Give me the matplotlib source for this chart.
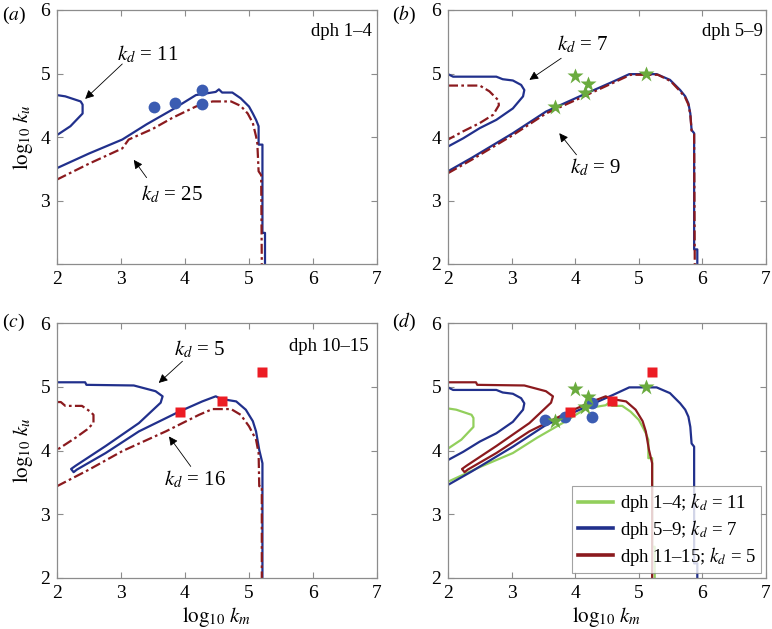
import matplotlib
matplotlib.use("Agg")
import matplotlib.pyplot as plt

# ---- contour lines (log10 km, log10 ku) ----
# dph 1-4
a_kd11_loop_x = [2.0, 2.13, 2.25, 2.37, 2.40, 2.40, 2.21, 2.0]
a_kd11_loop_y = [4.66, 4.64, 4.60, 4.56, 4.51, 4.37, 4.17, 4.03]
a_kd11_x = [2.0, 2.5, 3.02, 3.4, 3.8, 4.17, 4.48, 4.53, 4.58, 4.74, 4.87, 5.0, 5.06, 5.11, 5.15, 5.15, 5.21, 5.21, 5.25, 5.25]
a_kd11_y = [3.51, 3.74, 3.96, 4.2, 4.43, 4.66, 4.71, 4.75, 4.70, 4.70, 4.61, 4.48, 4.37, 4.27, 4.17, 3.88, 3.88, 2.49, 2.49, 2.0]
a_kd25_x = [2.0, 2.5, 3.02, 3.12, 3.5, 3.8, 4.17, 4.43, 4.72, 4.87, 4.98, 5.06, 5.11, 5.13, 5.15, 5.19, 5.20]
a_kd25_y = [3.33, 3.58, 3.82, 3.96, 4.13, 4.3, 4.48, 4.56, 4.56, 4.49, 4.37, 4.22, 4.01, 3.9, 3.46, 3.4, 2.0]

# dph 5-9
b_kd7_loop_x = [2.0, 2.08, 2.76, 2.86, 3.02, 3.15, 3.2, 3.18, 3.02, 2.76, 2.5, 2.24, 2.0]
b_kd7_loop_y = [4.99, 4.95, 4.95, 4.91, 4.89, 4.82, 4.74, 4.64, 4.45, 4.27, 4.14, 3.98, 3.85]
b_kd9_loop_x = [2.0, 2.5, 2.65, 2.79, 2.8, 2.71, 2.5, 2.24, 2.0]
b_kd9_loop_y = [4.81, 4.81, 4.72, 4.58, 4.5, 4.35, 4.22, 4.09, 3.96]
b_kd7_x = [2.0, 2.37, 3.02, 3.54, 4.07, 4.59, 4.85, 5.28, 5.49, 5.65, 5.73, 5.78, 5.81, 5.83, 5.87, 5.87, 5.92, 5.92]
b_kd7_y = [3.46, 3.67, 4.06, 4.4, 4.64, 4.87, 4.99, 4.99, 4.9, 4.74, 4.64, 4.53, 4.37, 4.11, 4.06, 2.23, 2.23, 2.0]
b_kd9_x = [2.0, 2.37, 3.02, 3.54, 4.07, 4.59, 4.87, 5.3, 5.5, 5.65, 5.73, 5.78, 5.81, 5.83, 5.87, 5.88]
b_kd9_y = [3.43, 3.64, 4.03, 4.37, 4.61, 4.85, 4.98, 4.98, 4.88, 4.72, 4.62, 4.51, 4.35, 4.1, 4.05, 2.0]

# dph 10-15
c_kd5_x = [2.0, 2.44, 2.46, 3.2, 3.54, 3.65, 3.62, 3.28, 2.76, 2.29, 2.22, 2.26, 2.31, 2.76, 3.28, 3.91,
           4.27, 4.48, 4.56, 4.8, 4.95, 5.06, 5.11, 5.16, 5.21, 5.21]
c_kd5_y = [5.07, 5.07, 5.03, 5.02, 4.93, 4.85, 4.75, 4.43, 4.07, 3.76, 3.71, 3.66, 3.70, 3.96, 4.3, 4.61,
           4.77, 4.85, 4.81, 4.77, 4.64, 4.46, 4.3, 4.01, 3.8, 2.0]
c_kd16_loop_x = [2.0, 2.06, 2.13, 2.39, 2.52, 2.57, 2.57, 2.47, 2.29, 2.0]
c_kd16_loop_y = [4.76, 4.76, 4.70, 4.70, 4.61, 4.56, 4.43, 4.33, 4.2, 4.01]
c_kd16_x = [2.0, 2.5, 3.02, 3.7, 4.22, 4.43, 4.72, 4.87, 5.0, 5.11, 5.15, 5.16, 5.2, 5.2]
c_kd16_y = [3.44, 3.7, 3.99, 4.3, 4.56, 4.65, 4.65, 4.56, 4.38, 4.17, 3.96, 3.44, 3.44, 2.0]

# measured points
circ_x = [3.52, 3.84, 4.27, 4.27]
circ_y = [4.48, 4.53, 4.74, 4.52]
star_x = [3.68, 3.99, 4.2, 4.15, 5.11]
star_y = [4.47, 4.96, 4.84, 4.69, 5.0]
sq_x = [3.92, 4.58, 5.21]
sq_y = [4.61, 4.77, 5.23]

legend_labels = ["dph 1–4; $k_d$ = 11", "dph 5–9; $k_d$ = 7", "dph 11–15; $k_d$ = 5"]

BLUE = "#21308c"
RED = "#8b1a1e"
GREEN = "#92cf5c"
DOTBLUE = "#3b5cb2"
STARGREEN = "#6aab3e"
SQRED = "#ec1c24"
GRID = "#8c8c8c"
DASHDOT = (0, (4.5, 1.5, 1.2, 1.5))

plt.rcParams["font.family"] = "serif"
plt.rcParams["font.serif"] = ["Liberation Serif", "DejaVu Serif"]
plt.rcParams["mathtext.fontset"] = "stix"

fig = plt.figure(figsize=(7.72, 6.29), dpi=100)
W, H = 772., 629.

def make_axes(l, t, r, b):
    return fig.add_axes([l / W, 1 - b / H, (r - l) / W, (b - t) / H])

ax_a = make_axes(57, 10, 377, 264)
ax_b = make_axes(448, 10, 766, 264)
ax_c = make_axes(57, 323, 377, 578)
ax_d = make_axes(448, 323, 766, 578)

for ax in [ax_a, ax_b, ax_c, ax_d]:
    ax.set_xlim(2, 7)
    ax.set_ylim(2, 6)
    ax.set_xticks([2, 3, 4, 5, 6, 7])
    ax.set_yticks([2, 3, 4, 5, 6])
    ax.tick_params(direction="in", top=True, right=True, length=4, width=0.8,
                   color=GRID, labelsize=14, pad=5)
    for s in ax.spines.values():
        s.set_color(GRID)
        s.set_linewidth(0.9)

ax_a.set_yticklabels(["", "3", "4", "5", "6"])

lw = 1.6
arrow = dict(arrowstyle="-|>", color="k", lw=0.6, mutation_scale=13, shrinkA=0, shrinkB=0)

# (a)
ax_a.plot(a_kd11_loop_x, a_kd11_loop_y, color=BLUE, lw=lw)
ax_a.plot(a_kd11_x, a_kd11_y, color=BLUE, lw=lw)
ax_a.plot(a_kd25_x, a_kd25_y, color=RED, lw=lw, linestyle=DASHDOT)
ax_a.plot(circ_x, circ_y, "o", color=DOTBLUE, ms=8.5, mec="none")
ax_a.text(3.42, 5.3, "$k_d$ = 11", fontsize=15, ha="center", va="center")
ax_a.annotate("", xy=(2.44, 4.6), xytext=(3.02, 5.15), arrowprops=arrow)
ax_a.text(3.8, 3.1, "$k_d$ = 25", fontsize=15, ha="center", va="center")
ax_a.annotate("", xy=(3.2, 3.64), xytext=(3.4, 3.36), arrowprops=arrow)
ax_a.text(6.92, 5.66, "dph 1–4", fontsize=13.5, ha="right", va="center")
ax_a.set_ylabel(r"$\log_{10}\, k_u$", fontsize=15, labelpad=4)

# (b)
ax_b.plot(b_kd7_loop_x, b_kd7_loop_y, color=BLUE, lw=lw)
ax_b.plot(b_kd7_x, b_kd7_y, color=BLUE, lw=lw)
ax_b.plot(b_kd9_loop_x, b_kd9_loop_y, color=RED, lw=lw, linestyle=DASHDOT)
ax_b.plot(b_kd9_x, b_kd9_y, color=RED, lw=lw, linestyle=DASHDOT)
ax_b.plot(star_x, star_y, "*", color=STARGREEN, ms=12, mec="none")
ax_b.text(4.12, 5.46, "$k_d$ = 7", fontsize=15, ha="center", va="center")
ax_b.annotate("", xy=(3.28, 4.9), xytext=(3.78, 5.24), arrowprops=arrow)
ax_b.text(4.32, 3.52, "$k_d$ = 9", fontsize=15, ha="center", va="center")
ax_b.annotate("", xy=(3.75, 4.06), xytext=(4.02, 3.72), arrowprops=arrow)
ax_b.text(6.95, 5.66, "dph 5–9", fontsize=13.5, ha="right", va="center")

# (c)
ax_c.plot(c_kd5_x, c_kd5_y, color=BLUE, lw=lw)
ax_c.plot(c_kd16_loop_x, c_kd16_loop_y, color=RED, lw=lw, linestyle=DASHDOT)
ax_c.plot(c_kd16_x, c_kd16_y, color=RED, lw=lw, linestyle=DASHDOT)
ax_c.plot(sq_x, sq_y, "s", color=SQRED, ms=6.5, mec="none")
ax_c.text(4.23, 5.58, "$k_d$ = 5", fontsize=15, ha="center", va="center")
ax_c.annotate("", xy=(3.59, 5.06), xytext=(3.96, 5.4), arrowprops=arrow)
ax_c.text(4.16, 3.55, "$k_d$ = 16", fontsize=15, ha="center", va="center")
ax_c.annotate("", xy=(3.75, 4.22), xytext=(4.09, 3.75), arrowprops=arrow)
ax_c.text(6.87, 5.63, "dph 10–15", fontsize=13.5, ha="right", va="center")
ax_c.set_ylabel(r"$\log_{10}\, k_u$", fontsize=15, labelpad=4)
ax_c.set_xlabel(r"$\log_{10}\, k_m$", fontsize=15, labelpad=2)

# (d)
ax_d.plot(a_kd11_loop_x, a_kd11_loop_y, color=GREEN, lw=lw)
l1, = ax_d.plot(a_kd11_x, a_kd11_y, color=GREEN, lw=lw)
ax_d.plot(b_kd7_loop_x, b_kd7_loop_y, color=BLUE, lw=lw)
l2, = ax_d.plot(b_kd7_x, b_kd7_y, color=BLUE, lw=lw)
l3, = ax_d.plot(c_kd5_x, c_kd5_y, color=RED, lw=lw)
ax_d.plot(circ_x, circ_y, "o", color=DOTBLUE, ms=8.5, mec="none")
ax_d.plot(star_x, star_y, "*", color=STARGREEN, ms=12, mec="none")
ax_d.plot(sq_x, sq_y, "s", color=SQRED, ms=6.5, mec="none")
ax_d.set_xlabel(r"$\log_{10}\, k_m$", fontsize=15, labelpad=2)
leg = ax_d.legend([l1, l2, l3], legend_labels, loc="lower right", fontsize=13.5,
                  frameon=True, fancybox=False, borderaxespad=0.25, handlelength=1.9,
                  handletextpad=0.35, labelspacing=0.2, borderpad=0.3)
leg.get_frame().set_edgecolor(GRID)
leg.get_frame().set_linewidth(0.8)
for h in leg.get_lines():
    h.set_linewidth(2.6)

# panel letters
for (px, py), letter in zip([(2, 15), (392, 15), (2, 322), (392, 322)], "abcd"):
    fig.text(px / W, 1 - py / H, "($%s$)" % letter, fontsize=14, ha="left", va="center")

fig.savefig("out.png", dpi=100)
